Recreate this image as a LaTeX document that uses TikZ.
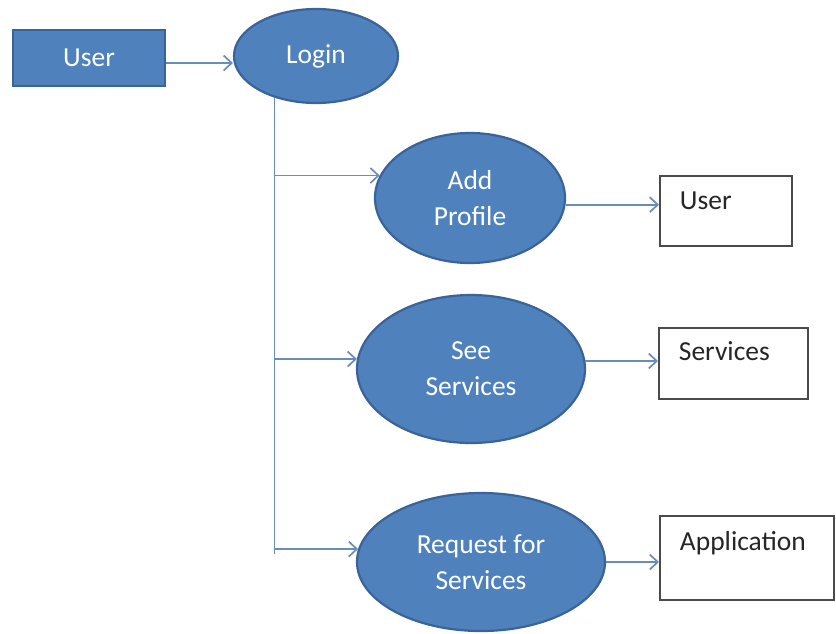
\documentclass[tikz,border=0pt]{standalone}
\usepackage{fontspec}
\setmainfont{Carlito}
\usetikzlibrary{shapes.geometric,arrows.meta}
\definecolor{ucfill}{HTML}{4F81BD}
\definecolor{ucedge}{HTML}{3A639A}
\definecolor{conn}{HTML}{6A8DB8}
\definecolor{boxedge}{HTML}{4A4A4A}
\definecolor{boxtext}{HTML}{262626}
\tikzset{
  usecase/.style={ellipse, draw=ucedge, fill=ucfill, line width=2.2pt,
    inner sep=0pt, text=white, align=center,
    font=\fontsize{27.5}{36}\selectfont},
  actor/.style={rectangle, draw=ucedge, fill=ucfill, line width=2.2pt,
    inner sep=0pt, text=white, font=\fontsize{27.5}{33}\selectfont},
  store/.style={rectangle, draw=boxedge, fill=white, line width=1.8pt,
    inner xsep=20pt, inner ysep=0pt, align=left,
    text=boxtext, font=\fontsize{27.5}{33}\selectfont},
  link/.style={draw=conn, line width=1.7pt},
  arr/.style={link, -{Straight Barb[length=8pt,width=15pt,line width=1.7pt]}},
}
\begin{document}
\begin{tikzpicture}[x=1pt,y=-1pt]
  \useasboundingbox[fill=white] (0,0) rectangle (836,633);

  % actor and login
  \node[actor, minimum width=152pt, minimum height=56pt] (user) at (89,58) {User};
  \node[usecase, minimum width=164pt, minimum height=94pt] (login) at (316,56) {Login};

  % use cases
  \node[usecase, minimum width=190pt, minimum height=130pt] (addp) at (470,198) {Add\\Profile};
  \node[usecase, minimum width=228pt, minimum height=148pt] (see) at (471,369) {See\\Services};
  \node[usecase, minimum width=248pt, minimum height=138pt] (req) at (481,562) {Request for\\Services};

  % data stores
  \node[store, text width=92pt, text height=34pt, text depth=36pt, anchor=north west] (duser) at (659,175) {User};
  \node[store, text width=109pt, text height=33pt, text depth=38pt, anchor=north west] (dserv) at (658,327) {Services};
  \node[store, text width=134pt, text height=35pt, text depth=49pt, anchor=north west] (dapp) at (659,515) {Application};

  % user to login
  \draw[arr] ([yshift=-5pt]user.east) -- ([yshift=-5pt]user.east -| login.west);

  % trunk from login and branches
  \coordinate (tjoin) at (login.225 |- req.174);
  \draw[link] (login.225) -- ([yshift=-5pt]tjoin);
  \draw[arr] (login.225 |- addp.166) -- (addp.166);
  \draw[arr] (login.225 |- see.175) -- (see.175);
  \draw[arr] (tjoin) -- (req.174);

  % use cases to data stores
  \draw[arr] (addp.-4) -- (addp.-4 -| duser.west);
  \draw[arr] (see.4) -- (see.4 -| dserv.west);
  \draw[arr] (req.east) -- (req.east -| dapp.west);
\end{tikzpicture}
\end{document}
